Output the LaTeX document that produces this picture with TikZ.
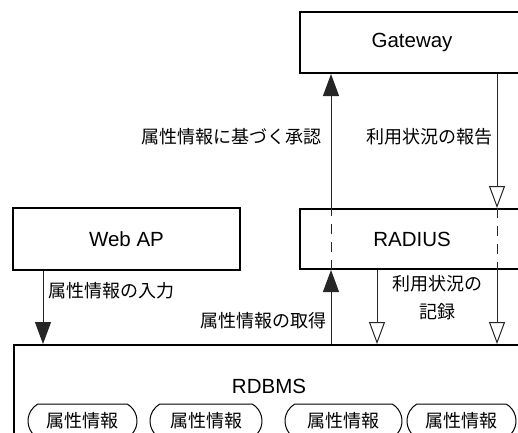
\documentclass[tikz,border=0pt]{standalone}
\usepackage{fontspec}
\setmainfont{Liberation Sans}
\newfontfamily\jpfont{Noto Sans CJK JP}
\usepackage{tikz}
\usetikzlibrary{positioning}
\usetikzlibrary{arrows.meta}
\usetikzlibrary{shapes.misc}
\usetikzlibrary{math}

\tikzset{
  block/.style={draw, line width=2pt, inner sep=0pt,
    font=\fontsize{20.5}{24}\selectfont},
  record/.style={draw, line width=1pt, rounded rectangle,
    rounded rectangle arc length=120, minimum height=34pt, inner sep=0pt,
    font=\jpfont\fontsize{18}{22}\selectfont},
  msg/.style={inner sep=0pt, align=center,
    font=\jpfont\fontsize{18}{28}\selectfont},
  flow/.style={line width=1pt, black!85},
  push/.style={flow, -{Triangle[length=22pt,width=16pt]}},
  report/.style={flow, -{Triangle[open,length=22pt,width=16pt,fill=white]}},
  through/.style={flow, dash pattern=on 10pt off 8pt},
}

\begin{document}
\begin{tikzpicture}[x=1pt,y=-1pt]

  \tikzmath{
    \xinput  = 43;  % Web AP -> RDBMS
    \xfetch  = 331; % RDBMS -> RADIUS -> Gateway
    \xlog    = 377; % RADIUS -> RDBMS
    \xreport = 497; % Gateway -> RADIUS -> RDBMS
  }

  \useasboundingbox (0,0) rectangle (518,432);
  \clip (0,0) rectangle (518,432);

  % Servers
  \node[block, minimum width=224pt, minimum height=61pt] (gateway) at (412,42.5) {Gateway};
  \node[block, minimum width=224pt, minimum height=60pt] (radius) at (412,239) {RADIUS};
  \node[block, minimum width=227pt, minimum height=62pt] (webap) at (126.5,239) {Web AP};

  % Database with its tables
  \node[block, minimum width=512pt, minimum height=110pt, anchor=north west] (rdbms) at (13,344) {};
  \node[block, draw=none] (rdbmsname) at (269,386) {RDBMS};
  \node[record, minimum width=109pt] (attr1) at (82.5,421) {属性情報};
  \node[record, minimum width=112pt] (attr2) at (206,421) {属性情報};
  \node[record, minimum width=117pt] (attr3) at (343.5,421) {属性情報};
  \node[record, minimum width=109pt] (attr4) at (461.5,421) {属性情報};

  % Columns of the connectors
  \coordinate (input)  at (\xinput,0);
  \coordinate (fetch)  at (\xfetch,0);
  \coordinate (log)    at (\xlog,0);
  \coordinate (report) at (\xreport,0);

  % Attribute input
  \draw[push] (webap.south -| input) -- (rdbms.north -| input);

  % Attribute lookup and authorisation
  \draw[push] (rdbms.north -| fetch) -- (radius.south -| fetch);
  \draw[through] (radius.south -| fetch) -- (radius.north -| fetch);
  \draw[push] (radius.north -| fetch) -- (gateway.south -| fetch);

  % Usage reports
  \draw[report] (gateway.south -| report) -- (radius.north -| report);
  \draw[through] (radius.north -| report) -- (radius.south -| report);
  \draw[report] (radius.south -| report) -- (rdbms.north -| report);
  \draw[report] (radius.south -| log) -- (rdbms.north -| log);

  % Labels
  \node[msg, anchor=west] (inputlabel) at (48,291) {属性情報の入力};
  \node[msg, anchor=east] (fetchlabel) at (327,321) {属性情報の取得};
  \node[msg] (loglabel) at (437,298) {利用状況の\\記録};
  \node[msg, anchor=east] (approvelabel) at (322,137) {属性情報に基づく承認};
  \node[msg, anchor=east] (reportlabel) at (493,137) {利用状況の報告};

\end{tikzpicture}
\end{document}
